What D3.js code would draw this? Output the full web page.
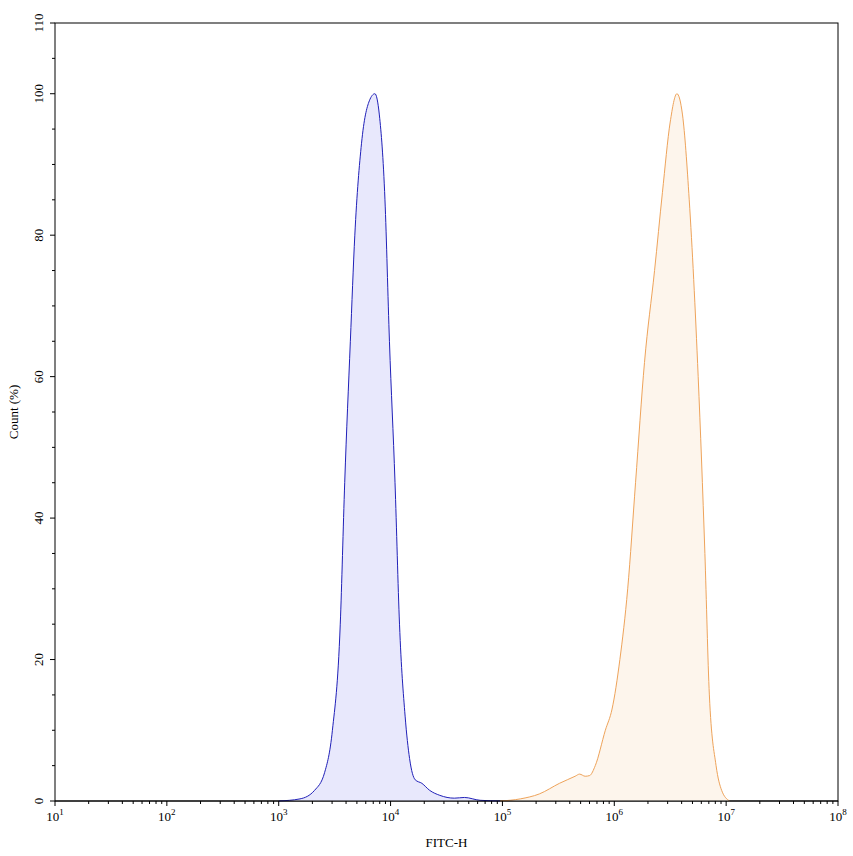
<!DOCTYPE html>
<html><head><meta charset="utf-8">
<script src="https://cdn.jsdelivr.net/npm/d3@7"></script>
<style>body{margin:0;background:#fff}text{font-family:"Liberation Serif","Times New Roman",serif}</style>
</head><body>
<script>
const blueFitc = [1000,1550,2090,2570,3020,3550,3890,4370,4790,5500,6460,7240,7940,8910,9770,10960,12020,13490,14790,16600,19050,22390,27540,37150,45710,63100,95500];
const blueCount = [0,0.3,1.5,4,10,25,45,65,80,93,99,100,97,85,65,45,25,12,6,3,2.5,1.5,0.8,0.4,0.5,0.1,0];
const orangeFitc = [95500,144500,213800,323600,446700,489800,549500,602600,676100,831800,955000,1122000,1318000,1549000,1862000,2291000,2692000,3162000,3631000,4074000,4677000,5623000,6457000,7079000,8128000,9120000,10720000];
const orangeCount = [0,0.3,1,2.5,3.5,3.8,3.5,3.6,5,10,13,20,30,45,62,75,86,96,100,97,85,60,35,15,5,1.5,0];
const yTicks = [0,20,40,60,80,100,110];

const plotLeft = 55, plotRight = 838, plotTop = 23, plotBottom = 801;
const svg = d3.select("body").append("svg").attr("width", 853).attr("height", 856);
const x = d3.scaleLog().domain([10, 1e8]).range([plotLeft, plotRight]);
const y = d3.scaleLinear().domain([0, 110]).range([plotBottom, plotTop]);

svg.append("rect").attr("x", plotLeft).attr("y", plotTop).attr("width", plotRight - plotLeft).attr("height", plotBottom - plotTop)
    .attr("fill", "none").attr("stroke", "#000");

function drawSeries(xs, ys, stroke, fill) {
    const pts = xs.map((v, i) => [v, ys[i]]);
    svg.append("path").datum(pts)
        .attr("d", d3.area().x(d => x(d[0])).y0(plotBottom).y1(d => y(d[1])).curve(d3.curveMonotoneX))
        .attr("fill", fill);
    svg.append("path").datum(pts)
        .attr("d", d3.line().x(d => x(d[0])).y(d => y(d[1])).curve(d3.curveMonotoneX))
        .attr("fill", "none").attr("stroke", stroke).attr("stroke-width", 1);
}
drawSeries(blueFitc, blueCount, "#2020b8", "#e8e8fc");
drawSeries(orangeFitc, orangeCount, "#eea35a", "#fdf5ec");

// x axis
const xa = svg.append("g");
xa.append("line").attr("x1", plotLeft).attr("x2", plotRight).attr("y1", plotBottom).attr("y2", plotBottom).attr("stroke", "#000");
for (let e = 1; e <= 8; e++) {
    const p = Math.pow(10, e);
    xa.append("line").attr("x1", x(p)).attr("x2", x(p)).attr("y1", plotBottom).attr("y2", plotBottom + 5).attr("stroke", "#000");
    const t = xa.append("text").attr("x", x(p)).attr("y", plotBottom + 20).attr("text-anchor", "middle").style("font-size", "13px");
    t.append("tspan").text("10");
    t.append("tspan").attr("dy", -6).style("font-size", "9px").text(e);
    if (e < 8) for (let m = 2; m <= 9; m++) {
        xa.append("line").attr("x1", x(m * p)).attr("x2", x(m * p)).attr("y1", plotBottom).attr("y2", plotBottom + 3).attr("stroke", "#000");
    }
}
svg.append("text").attr("x", (plotLeft + plotRight) / 2).attr("y", 847).attr("text-anchor", "middle").style("font-size", "13px").text("FITC-H");

// y axis
const ya = svg.append("g");
d3.range(0, 111, 5).forEach(v => {
    const major = yTicks.includes(v);
    ya.append("line").attr("x1", plotLeft - (major ? 5 : 3)).attr("x2", plotLeft).attr("y1", y(v)).attr("y2", y(v)).attr("stroke", "#000");
});
yTicks.forEach(v => {
    ya.append("text").attr("transform", `translate(${plotLeft - 12},${y(v)}) rotate(-90)`)
        .attr("text-anchor", "middle").style("font-size", "13px").text(v);
});
svg.append("text").attr("transform", `translate(18,${(plotTop + plotBottom) / 2}) rotate(-90)`)
    .attr("text-anchor", "middle").style("font-size", "13px").text("Count (%)");
</script>
</body></html>
